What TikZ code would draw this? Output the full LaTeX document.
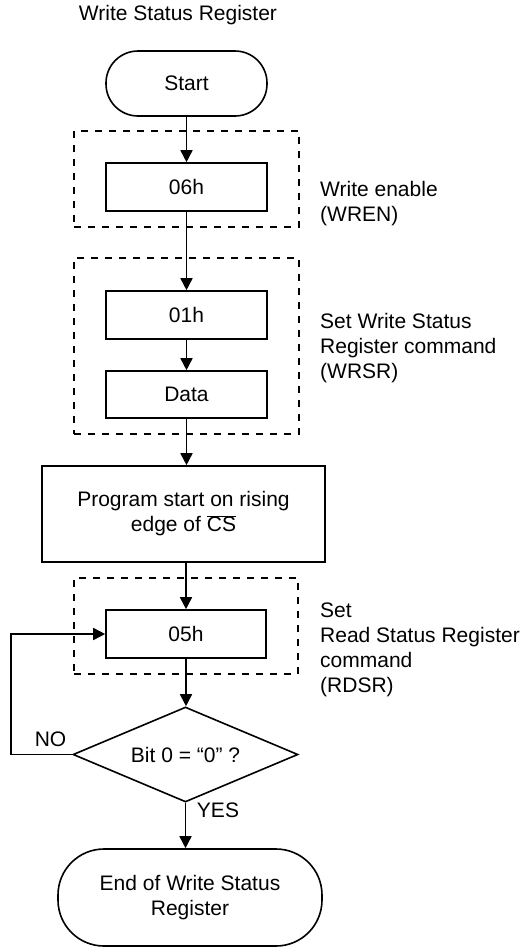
\documentclass[tikz,border=0pt]{standalone}
\usepackage{fontspec}
\setmainfont{Liberation Sans}
\usetikzlibrary{arrows.meta,shapes.geometric}
\begin{document}
\begin{tikzpicture}[x=1pt,y=-1pt,
  font=\fontsize{21}{25}\selectfont,
  every node/.style={inner sep=0pt},
  box/.style={draw, line width=1.6pt, minimum width=161pt, minimum height=48pt},
  term/.style={draw, line width=1.6pt},
  grp/.style={draw, line width=1.6pt, dash pattern=on 7pt off 7pt},
  flow/.style={line width=1.6pt, -{Triangle[length=12pt,width=12pt]}}]
\useasboundingbox (0,0) rectangle (525,948);
\node (title) at (178,15) {Write Status Register};
\node[term, minimum width=161pt, minimum height=65pt, rounded corners=32pt] (start) at (186.5,83.5) {Start};
\node[grp, minimum width=225pt, minimum height=96pt] (g1) at (186.5,179) {};
\node[box] (r06) at (186.5,187) {06h};
\node[anchor=west, align=left] (t1) at (320,204) {Write enable\\(WREN)};
\node[grp, minimum width=225pt, minimum height=176pt] (g2) at (186.5,346) {};
\node[box] (r01) at (186.5,315) {01h};
\node[box, minimum height=47pt] (rdata) at (186.5,394.5) {Data};
\node[anchor=west, align=left] (t2) at (320,348) {Set Write Status\\Register command\\(WRSR)};
\node[box, minimum width=283pt, minimum height=96pt, align=center] (prog) at (183.5,514) {Program start on rising\\edge of $\overline{\hbox{CS}}$};
\node[grp, minimum width=224pt, minimum height=96pt] (g3) at (186,626) {};
\node[box, minimum width=160pt] (r05) at (186,634) {05h};
\node[anchor=west, align=left] (t3) at (320,650) {Set\\Read Status Register\\command\\(RDSR)};
\node[draw, diamond, line width=1.6pt, aspect=2.37, minimum width=225pt, minimum height=95pt] (dec) at (185.5,754.5) {Bit 0 = “0” ?};
\node (no) at (50.5,739) {NO};
\node (yes) at (218,810) {YES};
\node[term, minimum width=264pt, minimum height=97pt, rounded corners=46pt, align=center] (end) at (190,897.5) {End of Write Status\\Register};
\coordinate (lp) at (11,700);
\draw[flow] (start) -- (r06);
\draw[flow] (r06) -- (r01);
\draw[flow] (r01) -- (rdata);
\draw[flow] (rdata.south) -- (rdata.south |- prog.north);
\draw[flow] (r05.north |- prog.south) -- (r05.north);
\draw[flow] (r05) -- (r05.south |- dec.north);
\draw[flow] (dec.south) -- (dec.south |- end.north);
\draw[flow] (dec.west) -- (dec.west -| lp) |- (r05.west);
\end{tikzpicture}
\end{document}
